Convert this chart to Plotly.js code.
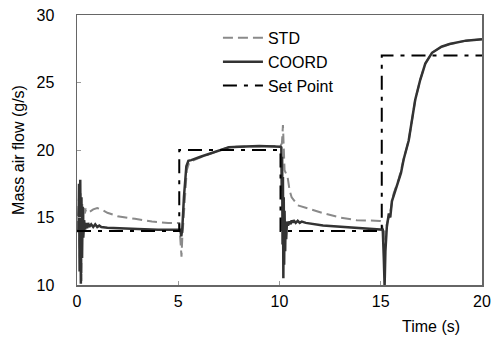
<!DOCTYPE html>
<html>
<head>
<meta charset="utf-8">
<script src="https://cdn.plot.ly/plotly-3.0.1.min.js"></script>
<style>html,body{margin:0;padding:0;background:#fff;}#chart{width:494px;height:343px;}</style>
</head>
<body>
<div id="chart"></div>
<script>
// Set point (g/s)
const timeSP = [0, 5.05, 5.05, 10.05, 10.05, 15.05, 15.05, 20];
const setPoint = [14, 14, 20, 20, 14, 14, 27, 27];

// COORD response
const timeCOORD = [0, 0.08, 0.1, 0.13, 0.16, 0.19, 0.22, 0.25, 0.28, 0.31, 0.35, 0.4, 0.45, 0.5, 0.55, 0.6, 0.7, 0.8, 0.9, 1.0, 1.1, 1.2, 1.5, 2, 3, 4, 5.05,
  5.1, 5.15, 5.2, 5.28, 5.4, 5.5, 5.64, 6.1, 6.5, 7.0, 7.5, 8, 9, 10.05,
  10.09, 10.11, 10.13, 10.15, 10.17, 10.19, 10.21, 10.23, 10.25, 10.28, 10.3, 10.33, 10.37, 10.42, 10.5, 10.55, 10.6, 10.65, 10.7, 10.8, 10.9, 11.0, 11.1, 11.3, 12.15, 13.0, 13.8, 14.96,
  15.1, 15.15, 15.19, 15.23, 15.27, 15.3, 15.4, 15.47, 15.55, 15.64, 15.75, 15.88, 16.0, 16.13, 16.25, 16.38, 16.54, 16.7, 16.95, 17.2, 17.53, 18.0, 18.4, 19.2, 20];
const coord = [14, 14, 17.5, 11, 17.8, 10.1, 16.5, 12, 15.8, 13.5, 14.8, 14.1, 14.6, 14.2, 14.6, 14.3, 14.5, 14.3, 14.5, 14.3, 14.4, 14.3, 14.25, 14.2, 14.15, 14.1, 14.1,
  14.1, 13.6, 14.2, 16.5, 18.8, 19.2, 19.25, 19.5, 19.7, 20.0, 20.2, 20.25, 20.3, 20.25,
  20.2, 17, 19.5, 13, 18, 10.5, 16.5, 11.5, 15.5, 12.5, 14.6, 13.4, 14.7, 14.4, 14.7, 14.5, 14.8, 14.6, 14.8, 14.6, 14.75, 14.6, 14.7, 14.6, 14.4, 14.3, 14.2, 14.1,
  14.1, 12, 9.9, 12.5, 14, 14.3, 15.3, 15.0, 16.2, 16.6, 17.2, 17.8, 18.3, 19.3, 20.0, 20.7, 22.2, 23.7, 25.2, 26.4, 27.2, 27.65, 27.85, 28.1, 28.2];

// STD response
const timeSTD = [0, 0.1, 0.14, 0.18, 0.22, 0.26, 0.3, 0.34, 0.38, 0.45, 0.6, 0.8, 1.0, 1.2, 1.5, 2.0, 2.86, 3.7, 4.5, 5.05,
  5.12, 5.16, 5.2, 5.3, 5.42, 5.55, 5.7, 6.1, 7.0, 7.5, 8, 9, 10.05,
  10.12, 10.17, 10.25, 10.4, 10.5, 10.6, 10.9, 11.6, 12.2, 13.0, 13.8, 14.96,
  15.05, 15.15, 15.2, 15.3, 15.47, 15.64, 15.88, 16.13, 16.38, 16.54, 16.7, 16.95, 17.2, 17.53, 18.0, 18.4, 19.2, 20];
const std = [14, 16.5, 12, 16.8, 10.3, 16, 13.5, 15.8, 15.3, 15.6, 15.4, 15.6, 15.7, 15.6, 15.35, 15.1, 14.9, 14.7, 14.6, 14.6,
  13, 12.1, 13.5, 16, 18.5, 19.1, 19.2, 19.45, 19.95, 20.2, 20.25, 20.3, 20.3,
  20.5, 21.85, 18.5, 18.0, 17.0, 16.5, 15.9, 15.55, 15.3, 15.0, 14.8, 14.75,
  14.7, 13.3, 14, 14.5, 15.4, 16.8, 17.8, 19.3, 20.7, 22.2, 23.7, 25.2, 26.4, 27.2, 27.65, 27.85, 28.1, 28.2];

const xTicks = [0, 5, 10, 15, 20];
const yTicks = [10, 15, 20, 25, 30];

const fontFam = '"Liberation Sans", Arial, sans-serif';

const traces = [
  {x: timeSTD, y: std, name: 'STD', mode: 'lines', line: {color: '#8a8a8a', width: 2, dash: '10px,5px'}},
  {x: timeCOORD, y: coord, name: 'COORD', mode: 'lines', line: {color: '#333333', width: 2.5}},
  {x: timeSP, y: setPoint, name: 'Set Point', mode: 'lines', line: {color: '#000000', width: 2, dash: '14px,7px,4px,7px'}}
];

const layout = {
  width: 494, height: 343,
  margin: {l: 77, r: 12, t: 15, b: 58},
  paper_bgcolor: '#ffffff', plot_bgcolor: '#ffffff',
  font: {family: fontFam, size: 16, color: '#000'},
  showlegend: true,
  legend: {x: 0.348, y: 0.978, xanchor: 'left', yanchor: 'top', bgcolor: 'rgba(0,0,0,0)', font: {family: fontFam, size: 16, color: '#000'}, itemwidth: 40, tracegroupgap: 0},
  xaxis: {
    range: [0, 20], tickvals: xTicks, ticktext: xTicks.map(String),
    showgrid: false, zeroline: false,
    showline: true, linecolor: '#666', linewidth: 1.5, mirror: true,
    ticks: 'inside', ticklen: 4, tickcolor: '#999', tickwidth: 1,
    tickfont: {family: fontFam, size: 16, color: '#000'},
    ticklabelstandoff: 1
  },
  yaxis: {
    range: [10, 30], tickvals: yTicks, ticktext: yTicks.map(String),
    showgrid: false, zeroline: false,
    showline: true, linecolor: '#666', linewidth: 1.5, mirror: true,
    ticks: 'inside', ticklen: 4, tickcolor: '#999', tickwidth: 1,
    tickfont: {family: fontFam, size: 16, color: '#000'},
    ticklabelstandoff: 18,
    title: {text: 'Mass air flow (g/s)', font: {family: fontFam, size: 16, color: '#000'}, standoff: 8}
  },
  annotations: [
    {text: 'Time (s)', xref: 'paper', yref: 'paper', x: 0.9506, y: -0.155, xanchor: 'right', yanchor: 'middle', showarrow: false, font: {family: fontFam, size: 16, color: '#000'}}
  ]
};

Plotly.newPlot('chart', traces, layout, {displayModeBar: false, staticPlot: true});
</script>
</body>
</html>
